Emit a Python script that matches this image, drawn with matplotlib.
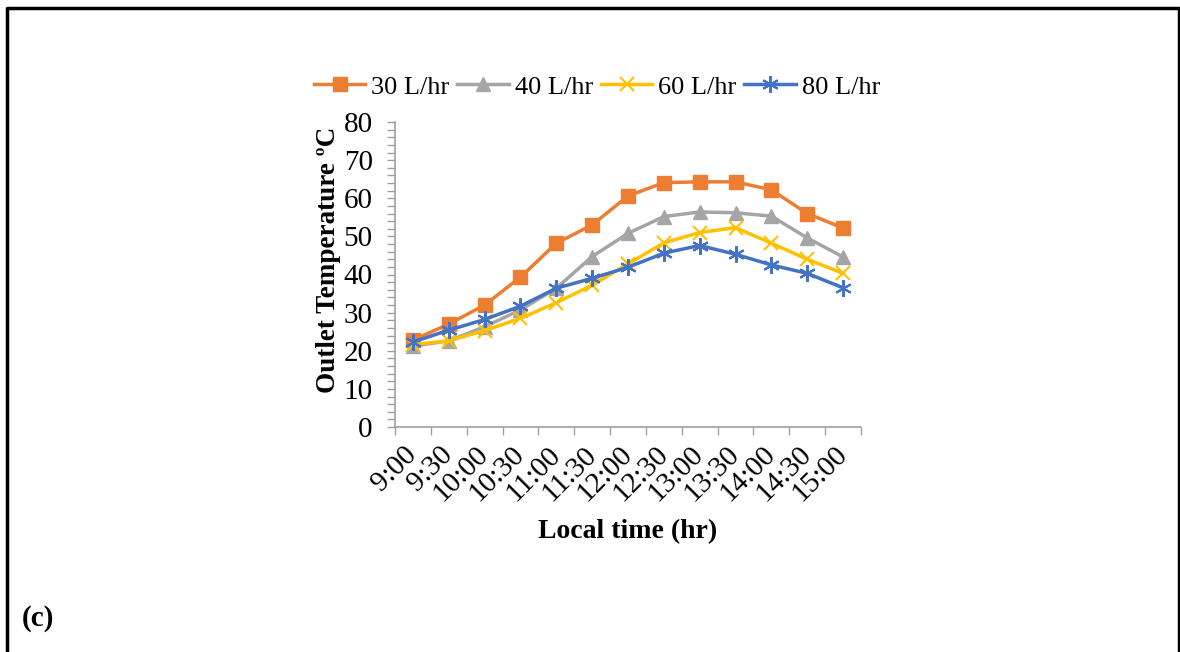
import matplotlib
matplotlib.use("Agg")
import matplotlib.pyplot as plt
from matplotlib.lines import Line2D
from matplotlib.ticker import MultipleLocator, FixedLocator

plt.rcParams['font.family'] = ['Liberation Serif', 'DejaVu Serif']

times = ["9:00", "9:30", "10:00", "10:30", "11:00", "11:30", "12:00",
         "12:30", "13:00", "13:30", "14:00", "14:30", "15:00"]
flow_30 = [22.8, 27.0, 32.0, 39.3, 48.2, 53.0, 60.6, 64.1, 64.3, 64.3, 62.2, 56.0, 52.2]
flow_40 = [21.2, 22.6, 26.3, 30.7, 36.4, 44.7, 50.8, 55.2, 56.4, 56.2, 55.3, 49.6, 44.6]
flow_60 = [21.6, 22.6, 25.3, 28.5, 32.6, 37.2, 42.8, 48.3, 51.0, 52.3, 48.2, 44.0, 40.3]
flow_80 = [22.3, 25.4, 28.2, 31.7, 36.4, 39.0, 41.9, 45.6, 47.6, 45.3, 42.5, 40.3, 36.5]
series_labels = ["30 L/hr", "40 L/hr", "60 L/hr", "80 L/hr"]

colors = ["#ED7D31", "#A5A5A5", "#FFC000", "#4472C4"]
markers = ["s", "^", "x", (6, 2, 0)]
msizes = [10.5, 10.5, 10, 12]

TICK_FS = 21
LAB_FS = 20
LEG_FS = 19

fig = plt.figure(figsize=(11.8, 6.52), dpi=100)
ax = fig.add_axes([395/1180, 1-427/652, (861-395)/1180, (427-122)/652])

x = list(range(len(times)))
for vals, lab, c, m, ms in zip([flow_30, flow_40, flow_60, flow_80],
                               series_labels, colors, markers, msizes):
    mew = 1.5 if m in ("x",) or isinstance(m, tuple) else 1
    ax.plot(x, vals, color=c, lw=2.5, marker=m, markersize=ms,
            markeredgewidth=mew, markerfacecolor=c, markeredgecolor=c, label=lab)

ax.set_xlim(-0.5, len(times) - 0.5)
ax.set_ylim(0, 80)
ax.yaxis.set_major_locator(MultipleLocator(10))
ax.yaxis.set_minor_locator(MultipleLocator(2))
ax.xaxis.set_major_locator(FixedLocator(x))
ax.xaxis.set_minor_locator(FixedLocator([i - 0.5 for i in range(len(times) + 1)]))
ax.set_xticklabels(times, rotation=45, ha='right', va='center', rotation_mode='anchor')

for s in ['top', 'right']:
    ax.spines[s].set_visible(False)
for s in ['left', 'bottom']:
    ax.spines[s].set_color('#A0A0A0')
    ax.spines[s].set_linewidth(1.2)

ax.tick_params(axis='y', which='both', direction='out', length=6, color='#A0A0A0',
               width=1, labelsize=TICK_FS, pad=10)
ax.tick_params(axis='x', which='major', length=0, labelsize=TICK_FS, pad=17)
ax.tick_params(axis='x', which='minor', direction='out', length=6, color='#A0A0A0', width=1)

ax.set_ylabel("Outlet Temperature ºC", fontsize=19.5, fontweight='bold')
ax.yaxis.set_label_coords((341-395)/466, (427-260)/305)
ax.set_xlabel("Local time (hr)", fontsize=LAB_FS, fontweight='bold', labelpad=9)

leg = fig.legend(loc='center', bbox_to_anchor=(597/1180, 1-87/652), ncol=4, frameon=False,
                 fontsize=LEG_FS, handlelength=1.95, handletextpad=0.22, columnspacing=0.3,
                 borderaxespad=0)

fig.text(22/1180, 1-619/652, "(c)", fontsize=TICK_FS, fontweight='bold', va='center', ha='left')

# outer frame
frame_x = [7/1180, 7/1180, 1179/1180, 1179/1180]
frame_y = [-0.05, 1-8/652, 1-8/652, -0.05]
fig.add_artist(Line2D(frame_x, frame_y, transform=fig.transFigure, color='black', lw=2.5))

fig.savefig("out.png", dpi=100)
